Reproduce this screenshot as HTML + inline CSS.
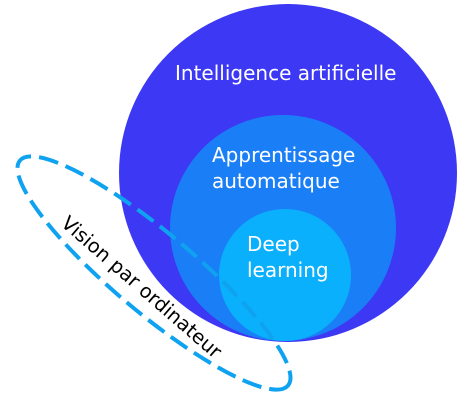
<!DOCTYPE html>
<html><head><style>html,body{margin:0;padding:0;background:#fff;}svg{display:block}</style></head>
<body>
<svg width="472" height="404" viewBox="0 0 472 404" xmlns="http://www.w3.org/2000/svg" font-family="'DejaVu Sans','Liberation Sans',sans-serif">
<circle cx="288" cy="173" r="169" fill="#3d38f4"/>
<circle cx="283" cy="228" r="113" fill="#1a7ff6"/>
<circle cx="285" cy="275" r="66" fill="#0ab0fb"/>
<text x="175" y="80" fill="#fff" font-size="20">Intelligence artificielle</text>
<text x="212" y="162" fill="#fff" font-size="20">Apprentissage</text>
<text x="212" y="188" fill="#fff" font-size="20">automatique</text>
<text x="247" y="251" fill="#fff" font-size="20">Deep</text>
<text x="247" y="277" fill="#fff" font-size="20">learning</text>
<ellipse cx="154" cy="273" rx="175" ry="40" transform="rotate(40 154 273)" fill="none" stroke="#0ea2f0" stroke-width="4" stroke-dasharray="20 8"/>
<text x="0" y="0" font-size="19.5" fill="#000" transform="translate(60 225) rotate(41)">Vision par ordinateur</text>
</svg>
</body></html>
